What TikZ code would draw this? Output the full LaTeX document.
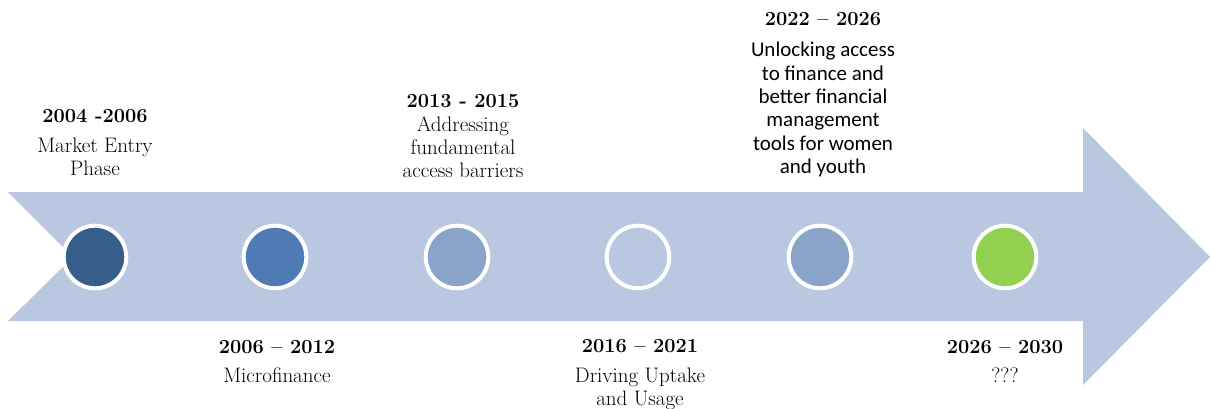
\documentclass[tikz,border=0pt]{standalone}
\usepackage{fontspec}
\newfontfamily\calibrifont{Carlito}
\definecolor{arrowblue}{HTML}{B9C7E0}
\definecolor{stepone}{HTML}{375D8A}
\definecolor{steptwo}{HTML}{4F7AB4}
\definecolor{stepthree}{HTML}{8AA3C9}
\definecolor{stepgreen}{HTML}{92D050}
\begin{document}
\begin{tikzpicture}[x=1pt,y=-1pt]
      \tikzset{dot/.style={circle, draw=white, line width=4pt, minimum size=62.6pt, inner sep=0pt},
               year/.style={font=\fontsize{20}{23}\selectfont\bfseries, inner sep=0pt},
               descr/.style={font=\fontsize{21}{23}\selectfont, align=center, inner sep=0pt},
               descrcal/.style={font=\calibrifont\fontsize{21}{23.4}\selectfont, align=center, inner sep=0pt}}
      \useasboundingbox (0,0) rectangle (1210,409);
      % the arrow
      \fill [arrowblue] (8,192) -- (1083,192) -- (1083,128) -- (1210,257) -- (1083,385)
            -- (1083,321) -- (8,321) -- (73,257) -- cycle;
      % the stages
      \node [dot, fill=stepone] (c1) at (95,257) {};
      \node [dot, fill=steptwo] (c2) at (275,257) {};
      \node [dot, fill=stepthree] (c3) at (457,257) {};
      \node [dot, fill=arrowblue] (c4) at (638,257) {};
      \node [dot, fill=stepthree] (c5) at (820,257) {};
      \node [dot, fill=stepgreen] (c6) at (1005,257) {};
      % labels above
      \node [year] (y1) at (95,116) {2004 -2006};
      \node [descr, anchor=north] (d1) at (95,138) {Market Entry\\Phase};
      \node [year] (y3) at (463,101) {2013 - 2015};
      \node [descr, anchor=north] (d3) at (463,116) {Addressing\\fundamental\\access barriers};
      \node [year] (y5) at (823,19) {2022 -- 2026};
      \node [descrcal, anchor=north] (d5) at (823,42) {Unlocking access\\to finance and\\better financial\\management\\tools for women\\and youth};
      % labels below
      \node [year] (y2) at (277,347) {2006 -- 2012};
      \node [descr, anchor=north] (d2) at (277,368) {Microfinance};
      \node [year] (y4) at (640,346) {2016 -- 2021};
      \node [descr, anchor=north] (d4) at (640,368) {Driving Uptake\\and Usage};
      \node [year] (y6) at (1005,347) {2026 -- 2030};
      \node [descr, anchor=north] (d6) at (1005,368) {???};
\end{tikzpicture}
\end{document}
